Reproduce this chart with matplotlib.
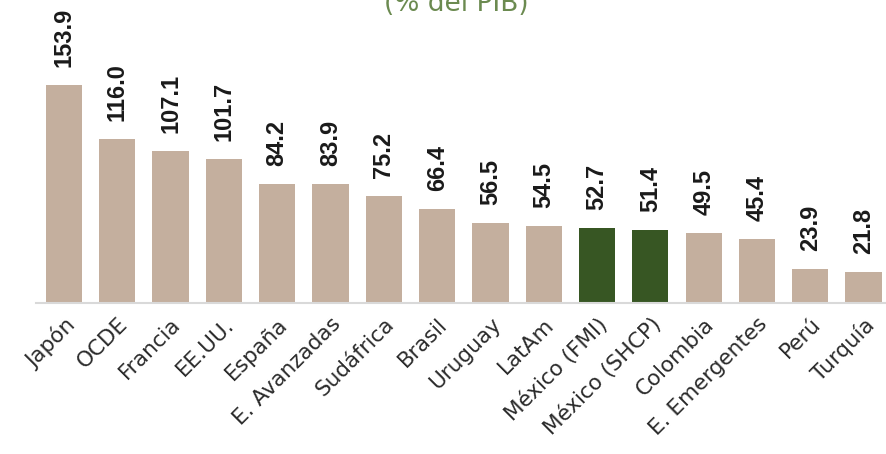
import numpy as np
import matplotlib
matplotlib.use('Agg')
import matplotlib.pyplot as plt

# data
paises = ['Japón', 'OCDE', 'Francia', 'EE.UU.', 'España', 'E. Avanzadas', 'Sudáfrica',
          'Brasil', 'Uruguay', 'LatAm', 'México (FMI)', 'México (SHCP)', 'Colombia',
          'E. Emergentes', 'Perú', 'Turquía']
deuda = [153.9, 116.0, 107.1, 101.7, 84.2, 83.9, 75.2, 66.4, 56.5, 54.5, 52.7, 51.4,
         49.5, 45.4, 23.9, 21.8]
resaltar = ['México (FMI)', 'México (SHCP)']

tan = '#c4af9e'
verde = '#375623'
colores = [verde if p in resaltar else tan for p in paises]

fig = plt.figure(figsize=(8.86, 4.54), dpi=100)
ax = fig.add_axes([0.0406, 0.3326, 0.9594, 0.6674])

x = np.arange(len(paises))
ax.bar(x, deuda, width=0.68, color=colores, zorder=2)

for xi, v in zip(x, deuda):
    ax.annotate(f'{v:.1f}', (xi, v), xytext=(0, 13), textcoords='offset points',
                rotation=90, ha='center', va='bottom', fontsize=17,
                family=['Liberation Sans', 'DejaVu Sans'], fontweight='bold',
                color='#1a1a1a')

ax.set_xlim(-0.525, 15.42)
ax.set_ylim(0, 213.8)
ax.set_xticks(x)
ax.set_xticklabels(paises, rotation=45, ha='right', rotation_mode='anchor',
                   fontsize=15.5, color='#2b2b2b')
ax.tick_params(axis='x', length=0, pad=8)
ax.set_yticks([])
for s in ['top', 'right', 'left']:
    ax.spines[s].set_visible(False)
ax.spines['bottom'].set_color('#d9d9d9')
ax.spines['bottom'].set_linewidth(1.5)

# titulo cortado en la parte superior, como en el original
fig.text(0.515, 1 - 11 / 454, '(% del PIB)', ha='center', va='baseline',
         fontsize=19, color='#6b8a50')

fig.savefig('out.png', dpi=100)
